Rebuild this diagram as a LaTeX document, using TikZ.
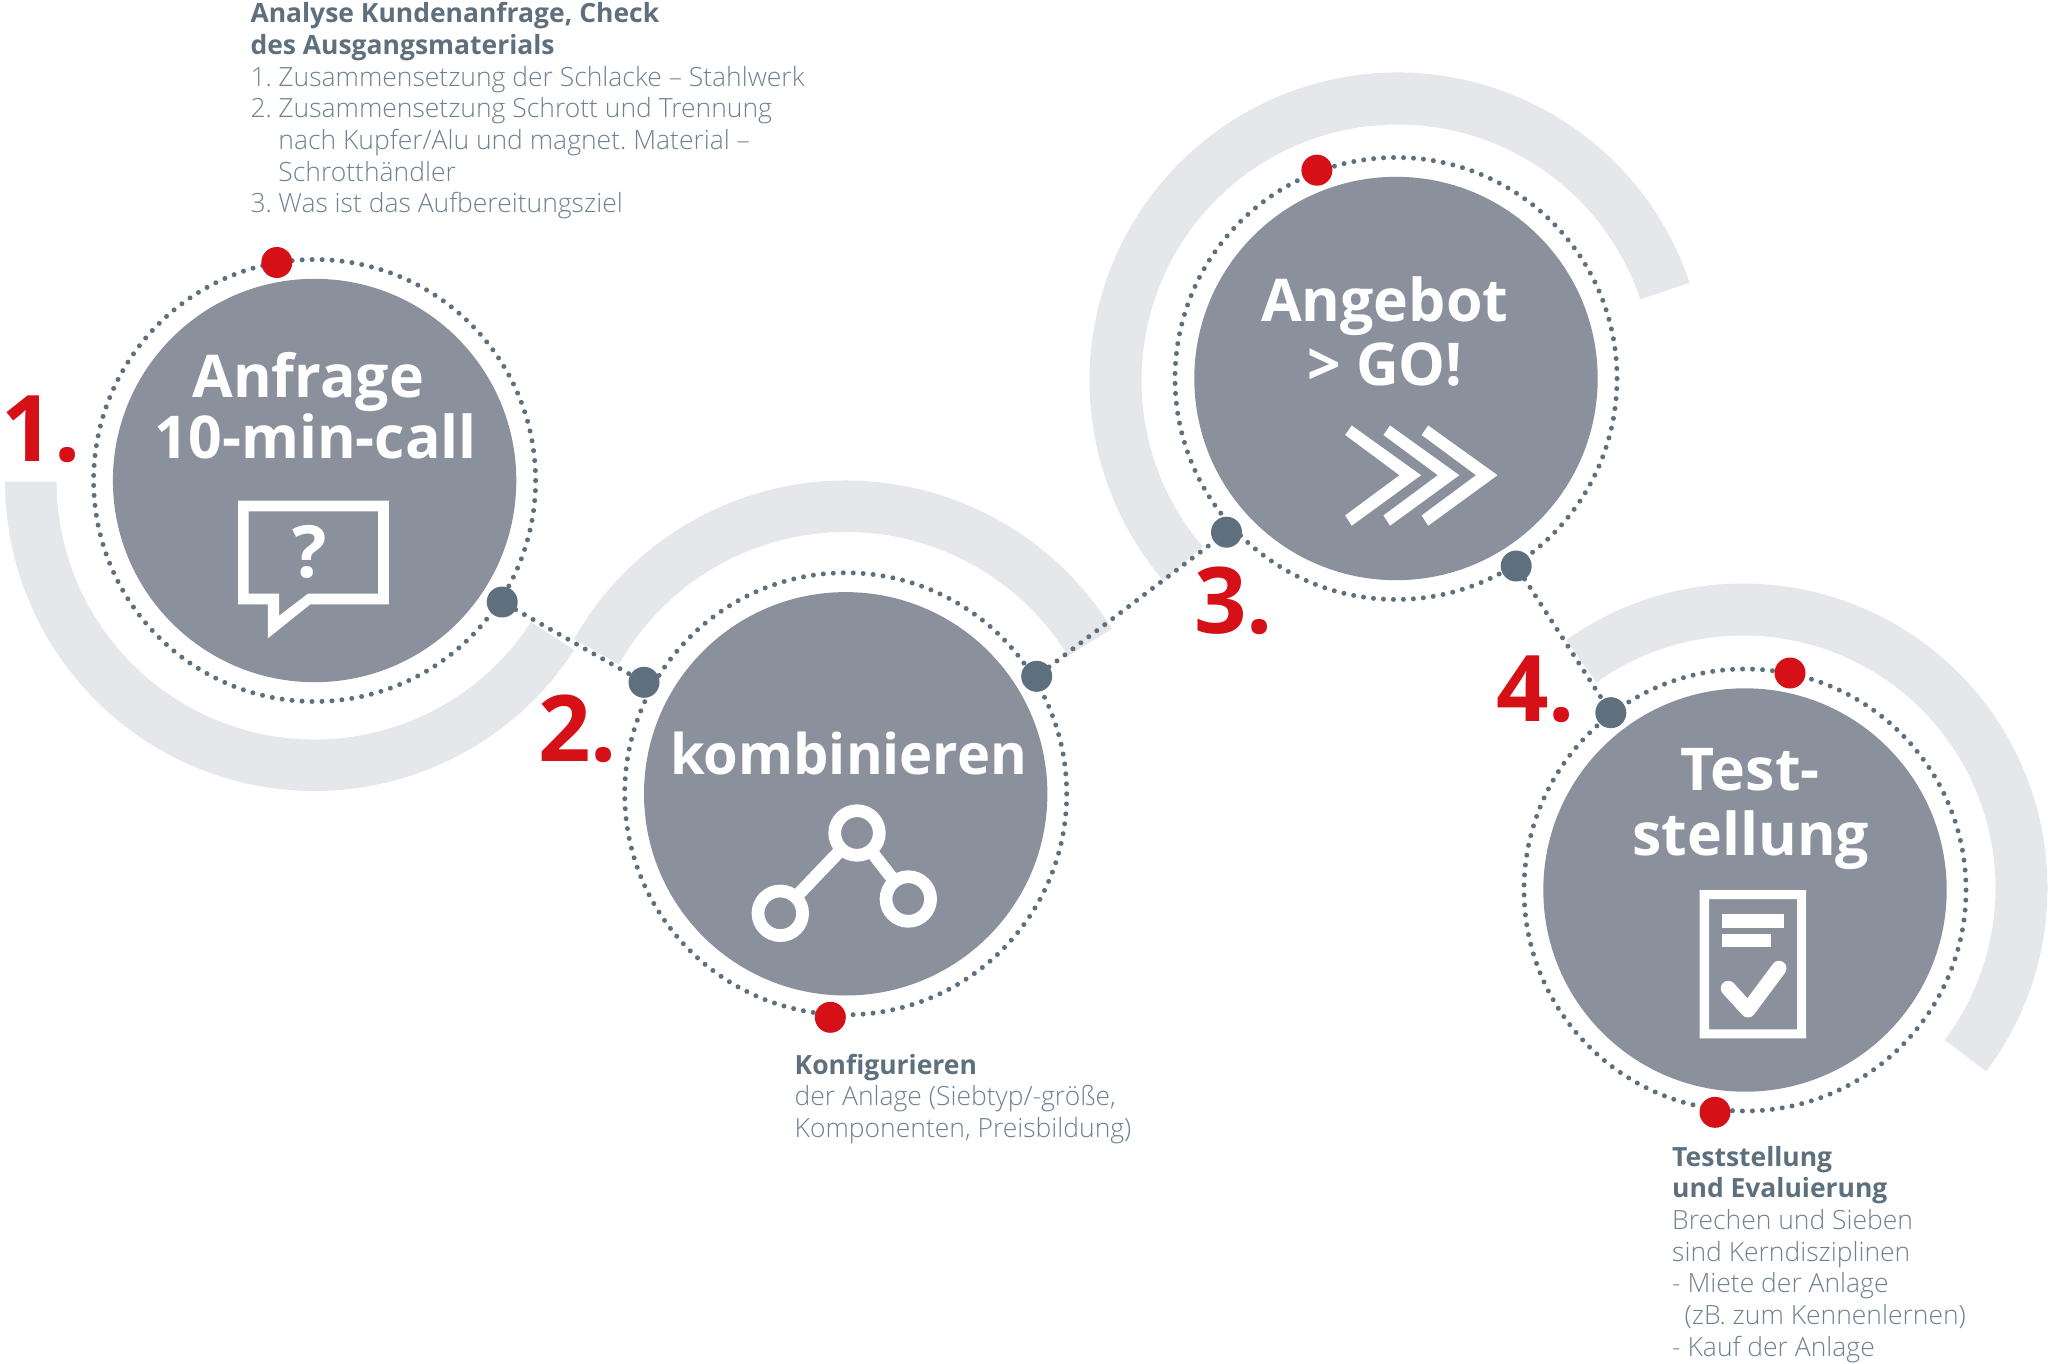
\documentclass[tikz,border=0pt]{standalone}
\usepackage{fontspec}
\setmainfont{Open Sans}
\newfontfamily\oslight{Open Sans Light}
\definecolor{disc}{HTML}{8A919C}
\definecolor{halo}{HTML}{E5E7EA}
\definecolor{slate}{HTML}{5E707E}
\definecolor{lighttext}{HTML}{6F8191}
\definecolor{accent}{HTML}{D61017}
\newcommand{\grayarc}[6]{%
  \fill[halo] ({#1+#4*cos(#5)},{#2-#4*sin(#5)}) arc[start angle=-#5,end angle=-#6,radius=#4]
    -- ({#1+#3*cos(#6)},{#2-#3*sin(#6)}) arc[start angle=-#6,end angle=-#5,radius=#3] -- cycle;}
\newcommand{\chev}[1]{%
  \fill[white,xshift=#1pt] (1351.7,425.5) -- (1421,475.2) -- (1351.7,525.7) -- (1345.2,515.4) -- (1399.5,475.2) -- (1345.2,435) -- cycle;}
\newcommand{\tb}[1]{\hbox{\bfseries\color{slate}\strut #1}}
\newcommand{\tl}[1]{\hbox{\oslight\color{lighttext}\strut #1}}
\newcommand{\blockfmt}{\fontsize{26.47pt}{31.7pt}\selectfont\frenchspacing\baselineskip=31.7pt\lineskiplimit=-100pt\relax}
\tikzset{
  x=1pt,y=-1pt,
  bigdisc/.style={circle,fill=disc,inner sep=0pt,outer sep=0pt,minimum size=403.4pt},
  ringdots/.style={circle,draw=slate,line width=5pt,line cap=round,dash pattern=on 0pt off 9.99pt,inner sep=0pt,outer sep=0pt,minimum size=442pt},
  linkdots/.style={draw=slate,line width=5pt,line cap=round,dash pattern=on 0pt off 9.99pt},
  bluedot/.style={circle,fill=slate,inner sep=0pt,outer sep=0pt,minimum size=31pt},
  reddot/.style={circle,fill=accent,inner sep=0pt,outer sep=0pt,minimum size=31pt},
  title/.style={font=\fontsize{59pt}{61pt}\selectfont\bfseries,text=white,inner sep=0pt,anchor=base},
  stepnum/.style={font=\fontsize{92pt}{92pt}\selectfont\bfseries,text=accent,inner sep=0pt,anchor=base west},
  block/.style={inner sep=0pt,anchor=base west},
  ringicon/.style={circle,draw=white,line width=12.7pt,inner sep=0pt,outer sep=0pt,minimum size=44.6pt},
  iconlink/.style={draw=white,line width=12.7pt}
}
\begin{document}
\begin{tikzpicture}
\useasboundingbox (0,0) rectangle (2048,1364);
% light arcs
\grayarc{314.6}{481.5}{258}{309.5}{180}{327}
\grayarc{846}{793}{261}{312.5}{31.7}{150.5}
\grayarc{1397.5}{380.5}{256}{308}{18.5}{220.5}
\grayarc{1743}{888}{252.5}{304.5}{-37}{125.5}
% rings and discs
\node[ringdots] (ring1) at (314.6,480.5) {};
\node[ringdots] (ring2) at (845.7,793.8) {};
\node[ringdots] (ring3) at (1396,378.5) {};
\node[ringdots] (ring4) at (1745,890) {};
\node[bigdisc] (disc1) at (314.6,480.5) {};
\node[bigdisc] (disc2) at (845.7,793.8) {};
\node[bigdisc] (disc3) at (1396,378.5) {};
\node[bigdisc] (disc4) at (1745,890) {};
% connector dots
\node[bluedot] (n1) at (502.2,602) {};
\node[bluedot] (n2a) at (644,682.3) {};
\node[bluedot] (n2b) at (1036.7,676.3) {};
\node[bluedot] (n3a) at (1226.5,532.2) {};
\node[bluedot] (n3b) at (1516.2,566) {};
\node[bluedot] (n4) at (1610.8,712.7) {};
\draw[linkdots] (n1) -- (n2a);
\draw[linkdots] (n2b) -- (n3a);
\draw[linkdots] (n3b) -- (n4);
% red dots
\node[reddot] (r1) at (276.8,262.5) {};
\node[reddot] (r2) at (830.3,1017.3) {};
\node[reddot] (r3) at (1316.9,170.2) {};
\node[reddot] (r4a) at (1790,673) {};
\node[reddot] (r4b) at (1715,1112.3) {};
% step numbers
\node[stepnum] (num1) at (1.5,461.5) {1.};
\node[stepnum] (num2) at (538,761) {2.};
\node[stepnum] (num3) at (1194,633) {3.};
\node[stepnum] (num4) at (1496,721.7) {4.};
% titles
\node[title] (t1a) at (308.3,397) {Anfrage};
\node[title] (t1b) at (315.8,458.9) {10-min-call};
\node[title,font=\fontsize{56pt}{61pt}\selectfont\bfseries] (t2) at (848.7,774.3) {kombinieren};
\node[title] (t3a) at (1384.7,322) {Angebot};
\node[title] (t3b) at (1385,385.3) {> GO!};
\node[title] (t4a) at (1750.3,790.7) {Test-};
\node[title] (t4b) at (1750.8,855) {stellung};
% speech bubble
\fill[white,even odd rule] (238,500.6) -- (388.8,500.6) -- (388.8,604.3) -- (310.3,604.3) -- (267.9,638.3) -- (267.9,604.3) -- (238,604.3) -- cycle
  (248.7,511.3) -- (378,511.3) -- (378,593.6) -- (308,593.6) -- (279,615.8) -- (279,593.6) -- (248.7,593.6) -- cycle;
\node[inner sep=0pt,anchor=base,text=white,font=\fontsize{72pt}{72pt}\selectfont\bfseries] (qm) at (310,577.5) {?};
% network icon
\node[ringicon] (ia) at (857,833) {};
\node[ringicon] (ib) at (780.3,913.3) {};
\node[ringicon] (ic) at (908.3,899) {};
\draw[iconlink] (ia) -- (ib);
\draw[iconlink] (ia) -- (ic);
% chevrons
\chev{0}\chev{38.3}\chev{76.5}
% document icon
\fill[white,even odd rule] (1699.6,890) rectangle (1806,1038.3) (1709,899) rectangle (1797,1029.3);
\fill[white] (1722,914.3) rectangle (1783.6,927.7);
\fill[white] (1722,934) rectangle (1771,947.3);
\draw[white,line width=15pt,line cap=round,line join=round] (1728.2,988.3) -- (1748,1010) -- (1779,968.3);
% text blocks
\node[block] (b1) at (250.3,22.7) {\vtop{\blockfmt
  \tb{Analyse Kundenanfrage, Check}
  \tb{des Ausgangsmaterials}
  \tl{\hbox to 27.9pt{1.\hss}Zusammensetzung der Schlacke – Stahlwerk}
  \tl{\hbox to 27.9pt{2.\hss}Zusammensetzung Schrott und Trennung}
  \tl{\hskip 27.9pt nach Kupfer/Alu und magnet. Material –}
  \tl{\hskip 27.9pt Schrotthändler}
  \tl{\hbox to 27.9pt{3.\hss}Was ist das Aufbereitungsziel}}};
\node[block] (b2) at (794.5,1074.2) {\vtop{\blockfmt
  \tb{Konfigurieren}
  \tl{der Anlage (Siebtyp/-größe,}
  \tl{Komponenten, Preisbildung)}}};
\node[block] (b4) at (1672,1166) {\vtop{\blockfmt
  \tb{Teststellung}
  \tb{und Evaluierung}
  \tl{Brechen und Sieben}
  \tl{sind Kerndisziplinen}
  \tl{- Miete der Anlage}
  \tl{\hskip 12.4pt (zB. zum Kennenlernen)}
  \tl{- Kauf der Anlage}}};
\end{tikzpicture}
\end{document}
